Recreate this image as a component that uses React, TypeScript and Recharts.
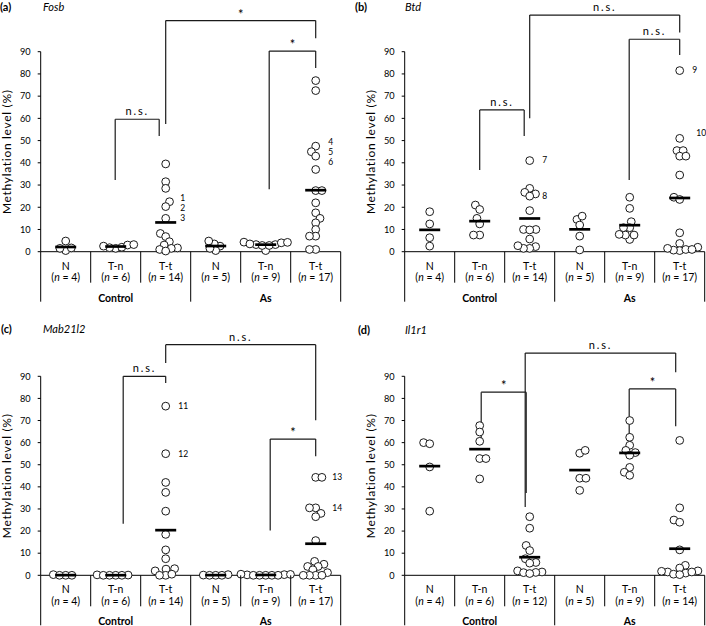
import React from "react";
import { ScatterChart, Scatter, XAxis, YAxis, ReferenceLine, ReferenceDot } from "recharts";

const categories = ["N", "T-n", "T-t", "N", "T-n", "T-t"];
const treatments = ["Control", "As"];
const yTicks = [0, 10, 20, 30, 40, 50, 60, 70, 80, 90];
const xTicks = [0.5, 1.5, 2.5, 3.5, 4.5, 5.5];

const groupSizes = [4, 6, 14, 5, 9, 17];
const groupSizesIl1r1 = [4, 6, 12, 5, 9, 14];

// methylation level (%) of each sample, one list per group
const fosbLevels = [
  [0.5, 1.5, 1.7, 4.8],
  [1.5, 1.8, 2.0, 2.5, 3.0, 3.2],
  [39.5, 31.5, 28.5, 22.5, 20.3, 15, 8.2, 6.8, 4.5, 3, 1.7, 1.5, 1, 0.3],
  [2.5, 3.5, 4.8, 0.5, 1.5],
  [3.2, 3.2, 4, 0.5, 4.2, 2.8, 4.3, 2.8, 3.5],
  [77, 72.5, 47.5, 45, 43, 37, 27.5, 27.5, 22, 17.5, 15, 13, 10, 7, 7, 1, 1],
];

const btdLevels = [
  [18, 12.5, 6.3, 2.5],
  [21, 19, 15, 12.5, 7.5, 7.5],
  [41, 28.5, 26.7, 26, 25, 18.5, 10, 10, 9.8, 5.7, 2.3, 1.5, 1.5, 2.7],
  [14.5, 16, 12, 7, 0.8],
  [24.5, 19.5, 13.5, 10.8, 10.8, 5.5, 7.5, 7.5, 7.8],
  [81.5, 51, 45.5, 45.5, 43, 43, 34.5, 24.5, 23.5, 8.5, 3.7, 2, 0.5, 0.7, 1.5, 1, 1],
];

const mab21l2Levels = [
  [0.3, 0, 0, 0],
  [0.2, 0, 0, 0.1, 0, 0],
  [76.5, 55, 42, 37.5, 29, 18.5, 11.5, 7.5, 3, 2, 2.8, 0, 0, 0.5],
  [0.3, 0.1, 0, 0, 0],
  [0, 0, 0.2, 0, 0, 0.3, 0, 0.5, 0.4],
  [44.3, 44.3, 30.5, 30.5, 28, 26.5, 15.7, 6.3, 5, 4, 4, 2.5, 1.2, 0, 0, 0, 0],
];

const il1r1Levels = [
  [60, 59.5, 49, 29],
  [67.7, 64.8, 60.6, 52.8, 52.8, 43.6],
  [26.5, 21.3, 13.5, 11.2, 7.5, 5.8, 5.5, 2, 1.5, 1.3, 1.2, 0.8],
  [55.2, 56.5, 43.9, 43.9, 38.4],
  [70, 62.4, 58.8, 56.5, 55.5, 54.3, 48.8, 46.6, 45.2],
  [61, 30.5, 25, 24, 11.5, 4.5, 3.3, 2, 1.5, 1, 1.5, 0.5, 0.3, 1.8],
];

// comparison brackets: legs at x1 / x2 (group axis units), bar at "top"
const fosbBrackets = [
  { x1: 1.49, y1: 32.3, x2: 2.37, y2: 52.1, top: 59.6, mark: "n.s." },
  { x1: 2.5, y1: 57.5, x2: 5.5, y2: 96, top: 104, mark: "*" },
  { x1: 4.57, y1: 28.1, x2: 5.5, y2: 82.7, top: 90.3, mark: "*" },
];
const btdBrackets = [
  { x1: 1.5, y1: 36.8, x2: 2.39, y2: 52.1, top: 63.8, mark: "n.s." },
  { x1: 2.5, y1: 60, x2: 5.5, y2: 98.6, top: 106.5, mark: "n.s." },
  { x1: 4.49, y1: 32.3, x2: 5.5, y2: 88.5, top: 95.6, mark: "n.s." },
];
const mab21l2Brackets = [
  { x1: 1.65, y1: 23.3, x2: 2.5, y2: 87, top: 90, mark: "n.s." },
  { x1: 2.5, y1: 96, x2: 5.5, y2: 70.1, top: 104.3, mark: "n.s." },
  { x1: 4.59, y1: 20.3, x2: 5.5, y2: 53.8, top: 61.6, mark: "*" },
];
const il1r1Brackets = [
  { x1: 1.53, y1: 62.1, x2: 2.43, y2: 37.2, top: 82.8, mark: "*" },
  { x1: 2.41, y1: 30.9, x2: 5.42, y2: 91.8, top: 100.5, mark: "n.s." },
  { x1: 4.49, y1: 63.6, x2: 5.42, y2: 67.4, top: 84.3, mark: "*" },
];

// sample numbers written next to the dots
const fosbNotes = [
  { x: 2.84, y: 24.3, text: "1" },
  { x: 2.84, y: 19.7, text: "2" },
  { x: 2.84, y: 15.1, text: "3" },
  { x: 5.8, y: 49.2, text: "4" },
  { x: 5.8, y: 44.8, text: "5" },
  { x: 5.8, y: 40.4, text: "6" },
];
const btdNotes = [
  { x: 2.8, y: 41.3, text: "7" },
  { x: 2.8, y: 25.1, text: "8" },
  { x: 5.8, y: 81.8, text: "9" },
  { x: 5.93, y: 53.3, text: "10" },
];
const mab21l2Notes = [
  { x: 2.85, y: 76.7, text: "11" },
  { x: 2.85, y: 54.9, text: "12" },
  { x: 5.93, y: 44.3, text: "13" },
  { x: 5.93, y: 30.4, text: "14" },
];

const W = 353;
const H = 313;
const PLOT_W = 300;
const CAT_W = PLOT_W / 6;
const AXIS_W = 40;
const X_AXIS_H = 50;

const panels = [
  { id: "a", gene: "Fosb", levels: fosbLevels, sizes: groupSizes, brackets: fosbBrackets, notes: fosbNotes,
    left: 0, top: 0, plotLeft: 40.7, plotTop: 51.7, plotBottom: 251.7, tagX: 0, geneX: 43, titleY: 0 },
  { id: "b", gene: "Btd", levels: btdLevels, sizes: groupSizes, brackets: btdBrackets, notes: btdNotes,
    left: 353, top: 0, plotLeft: 51.7, plotTop: 51.7, plotBottom: 251.7, tagX: 2, geneX: 52, titleY: 0 },
  { id: "c", gene: "Mab21l2", levels: mab21l2Levels, sizes: groupSizes, brackets: mab21l2Brackets, notes: mab21l2Notes,
    left: 0, top: 313, plotLeft: 40.7, plotTop: 63.3, plotBottom: 262.3, tagX: 1, geneX: 43, titleY: 9 },
  { id: "d", gene: "Il1r1", levels: il1r1Levels, sizes: groupSizesIl1r1, brackets: il1r1Brackets, notes: [],
    left: 353, top: 313, plotLeft: 51.7, plotTop: 63.3, plotBottom: 262.3, tagX: 5, geneX: 52, titleY: 10 },
];

// simple beeswarm: push dots sideways until they stop overlapping
function swarm(vals: number[], pxPerUnit: number) {
  const D = 6.2;
  const order = vals.map((_, i) => i).sort((a, b) => vals[a] - vals[b]);
  const placed: { x: number; y: number }[] = [];
  const out = new Array(vals.length).fill(0);
  let flip = false;
  order.forEach((i) => {
    const y = vals[i] * pxPerUnit;
    const near = placed.filter((p) => Math.abs(p.y - y) < D);
    const cands = [0];
    near.forEach((p) => {
      const dx = Math.sqrt(D * D - (p.y - y) * (p.y - y));
      cands.push(p.x + dx, p.x - dx);
    });
    cands.sort((a, b) => Math.abs(a) - Math.abs(b) || (flip ? a - b : b - a));
    const x = cands.find((c) => near.every((p) => (p.x - c) ** 2 + (p.y - y) ** 2 >= D * D - 0.05)) ?? 0;
    placed.push({ x, y });
    out[i] = x / CAT_W;
    flip = !flip;
  });
  return out;
}

const makeTick = (sizes: number[]) => (props: any) => {
  const { x, y, payload } = props;
  const i = Math.floor(payload.value);
  const half = CAT_W / 2;
  const leftLen = i % 3 === 0 ? 50 : 31;
  return (
    <g>
      <text x={x} y={y + 18} textAnchor="middle" fontSize={10.5} fill="#000">{categories[i]}</text>
      <text x={x} y={y + 29.5} textAnchor="middle" fontSize={10.5} fill="#000">
        (<tspan fontStyle="italic">n</tspan> = {sizes[i]})
      </text>
      <line x1={x - half} x2={x - half} y1={y} y2={y + leftLen} stroke="#000" />
      {i === 5 && <line x1={x + half} x2={x + half} y1={y} y2={y + 50} stroke="#000" />}
      {i % 3 === 1 && (
        <text x={x} y={y + 50} textAnchor="middle" fontSize={10.5} fontWeight={700} fill="#000">
          {treatments[Math.floor(i / 3)]}
        </text>
      )}
    </g>
  );
};

const Dot = (props: any) => <circle cx={props.cx} cy={props.cy} r={3.9} fill="#fff" stroke="#1a1a1a" strokeWidth={1} />;
const MeanBar = (props: any) => (
  <line x1={props.cx - 10.5} x2={props.cx + 10.5} y1={props.cy} y2={props.cy} stroke="#000" strokeWidth={2.7} />
);

function Panel({ p }: { p: any }) {
  const plotH = p.plotBottom - p.plotTop;
  const pxPerUnit = plotH / 90;
  const points = p.levels.flatMap((vals: number[], i: number) => {
    const offs = swarm(vals, pxPerUnit);
    return vals.map((v, j) => ({ x: i + 0.5 + offs[j], y: v }));
  });
  const means = p.levels.map((vals: number[], i: number) => ({
    x: i + 0.5,
    y: vals.reduce((s, v) => s + v, 0) / vals.length,
  }));
  const line = { stroke: "#1a1a1a", strokeWidth: 1.2, ifOverflow: "visible" as const };

  return (
    <div style={{ position: "absolute", left: p.left, top: p.top, width: W, height: H }}>
      <span style={{ position: "absolute", left: p.tagX, top: p.titleY, fontSize: 11, fontWeight: 700, lineHeight: "13px" }}>
        ({p.id})
      </span>
      <span style={{ position: "absolute", left: p.geneX, top: p.titleY, fontSize: 11, fontStyle: "italic", lineHeight: "13px" }}>
        {p.gene}
      </span>
      <ScatterChart
        width={W}
        height={H}
        margin={{ top: p.plotTop, left: p.plotLeft - AXIS_W, right: W - p.plotLeft - PLOT_W, bottom: H - p.plotBottom - X_AXIS_H }}
      >
        <XAxis
          type="number"
          dataKey="x"
          domain={[0, 6]}
          ticks={xTicks}
          interval={0}
          tickLine={false}
          tickSize={0}
          tickMargin={0}
          height={X_AXIS_H}
          axisLine={{ stroke: "#000" }}
          tick={makeTick(p.sizes)}
        />
        <YAxis
          type="number"
          dataKey="y"
          domain={[0, 90]}
          ticks={yTicks}
          interval={0}
          width={AXIS_W}
          tickSize={3}
          tickMargin={7}
          axisLine={{ stroke: "#000" }}
          tickLine={{ stroke: "#000" }}
          tick={{ fontSize: 9.2, fill: "#000" }}
          label={{
            value: "Methylation level (%)",
            angle: -90,
            position: "center",
            dx: -13.5,
            dy: 0,
            fontSize: 12,
            letterSpacing: 0.7,
            fill: "#000",
          }}
        />
        <Scatter data={points} shape={Dot} isAnimationActive={false} />
        <Scatter data={means} shape={MeanBar} isAnimationActive={false} />
        {p.brackets.map((b: any, k: number) => (
          <ReferenceLine key={`l${k}`} segment={[{ x: b.x1, y: b.y1 }, { x: b.x1, y: b.top }]} {...line} />
        ))}
        {p.brackets.map((b: any, k: number) => (
          <ReferenceLine
            key={`t${k}`}
            segment={[{ x: b.x1, y: b.top }, { x: b.x2, y: b.top }]}
            {...line}
            label={{
              value: b.mark,
              position: "top",
              offset: b.mark === "*" ? 2 : 4,
              fontSize: b.mark === "*" ? 13 : 11,
              letterSpacing: b.mark === "*" ? 0 : 1.8,
              fill: "#000",
            }}
          />
        ))}
        {p.brackets.map((b: any, k: number) => (
          <ReferenceLine key={`r${k}`} segment={[{ x: b.x2, y: b.top }, { x: b.x2, y: b.y2 }]} {...line} />
        ))}
        {p.notes.map((n: any, k: number) => (
          <ReferenceDot
            key={`n${k}`}
            x={n.x}
            y={n.y}
            r={0}
            fill="none"
            stroke="none"
            ifOverflow="visible"
            label={{ value: n.text, position: "center", fontSize: 8.5, fill: "#000" }}
          />
        ))}
      </ScatterChart>
    </div>
  );
}

export default function App() {
  return (
    <div
      style={{
        position: "absolute",
        left: 0,
        top: 0,
        width: 706,
        height: 626,
        background: "#fff",
        fontFamily: "Lato, sans-serif",
        color: "#000",
      }}
    >
      {panels.map((p) => (
        <Panel key={p.id} p={p} />
      ))}
    </div>
  );
}
